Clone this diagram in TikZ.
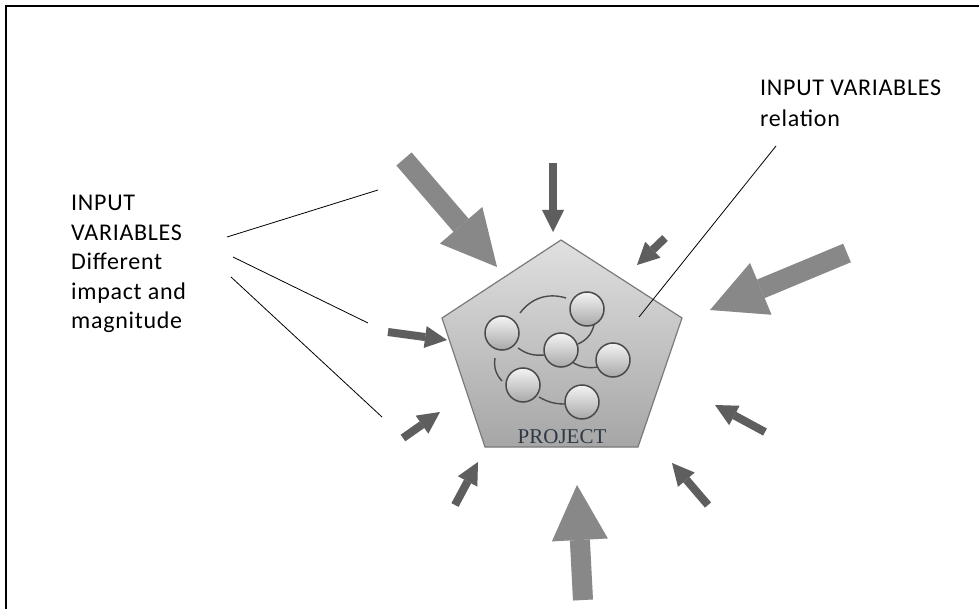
\documentclass[tikz,border=0pt]{standalone}
\usepackage{fontspec}
\newfontfamily\carlito[LetterSpace=3]{Carlito}
\newfontfamily\projfont{Liberation Serif}
\usetikzlibrary{arrows.meta,calc}
\definecolor{bigarrow}{HTML}{888888}
\definecolor{smallarrow}{HTML}{5E5E5E}
\definecolor{glow}{HTML}{D8F3F9}
\definecolor{pentop}{HTML}{E0E0E0}
\definecolor{penbot}{HTML}{A6A6A6}
\definecolor{penedge}{HTML}{7A7A7A}
\definecolor{balltop}{HTML}{F4F4F4}
\definecolor{ballbot}{HTML}{A8A8A8}
\definecolor{balledge}{HTML}{4A4A4A}
\definecolor{projtext}{HTML}{2E3844}
\tikzset{
  bigarr/.style={line width=20pt,-{Triangle[width=56pt,length=55pt,line width=0pt]}},
  smallarr/.style={line width=8pt,-{Triangle[width=22pt,length=22pt,line width=0pt]}},
  glowed/.style={draw=glow,xshift=-4pt,yshift=-4pt},
  ball/.style={circle,minimum size=34pt,inner sep=0pt,draw=balledge,line width=1.5pt,top color=balltop,bottom color=ballbot},
  link/.style={draw=balledge,line width=1.4pt},
  leader/.style={draw=black,line width=0.8pt},
  label/.style={inner sep=0pt,align=left,anchor=north west,text=black}
}
\begin{document}
\begin{tikzpicture}[x=1pt,y=-1pt]
\useasboundingbox (0,0) rectangle (979,609);
% frame
\draw[line width=1.8pt] (6,612) -- (6,6) -- (982,6);

% pentagon corners
\coordinate (p1) at (561,240);
\coordinate (p2) at (682,318);
\coordinate (p3) at (638,447);
\coordinate (p4) at (485,447);
\coordinate (p5) at (442,318);

% arrow coordinates
\coordinate (a1t) at (404,159);  \coordinate (a1h) at (497,267);
\coordinate (a2t) at (847,253);  \coordinate (a2h) at (710,310);
\coordinate (a3t) at (583,600);  \coordinate (a3h) at (577,485);
\coordinate (s1t) at (553,163);  \coordinate (s1h) at (553,232);
\coordinate (s2t) at (665,238);  \coordinate (s2h) at (637,265);
\coordinate (s3t) at (388,332);  \coordinate (s3h) at (447,340);
\coordinate (s4t) at (403,438);  \coordinate (s4h) at (440,412);
\coordinate (s5t) at (455,505);  \coordinate (s5h) at (478,462);
\coordinate (s6t) at (765,432);  \coordinate (s6h) at (715,405);
\coordinate (s7t) at (708,505);  \coordinate (s7h) at (672,463);

% glow shadows
\foreach \a in {a1,a2,a3} \draw[bigarr,glowed] (\a t) -- (\a h);
\foreach \a in {s1,s2,s3,s4,s5,s6,s7} \draw[smallarr,glowed] (\a t) -- (\a h);

% arrows
\foreach \a in {a1,a2,a3} \draw[bigarr,draw=bigarrow] (\a t) -- (\a h);
\foreach \a in {s1,s2,s3,s4,s5,s6,s7} \draw[smallarr,draw=smallarrow] (\a t) -- (\a h);

% pentagon shadow and body
\fill[black,opacity=0.18,xshift=2pt,yshift=-3pt] (p1) -- (p2) -- (p3) -- (p4) -- (p5) -- cycle;
\path[draw=penedge,line width=1.2pt,top color=pentop,bottom color=penbot] (p1) -- (p2) -- (p3) -- (p4) -- (p5) -- cycle;

% network links
\draw[link] (520,313) to[bend left=35] (566,298);
\draw[link] (594,325) to[bend left=25] (578,344);
\draw[link] (518,348) to[bend right=20] (544,355);
\draw[link] (572,362) to[bend right=20] (598,367);
\draw[link] (495,358) to[bend right=25] (502,381);
\draw[link] (539,397) to[bend right=15] (566,404);

% balls
\node[ball] (c1) at (502,333) {};
\node[ball] (c2) at (587,309) {};
\node[ball] (c3) at (561,350) {};
\node[ball] (c4) at (613,360) {};
\node[ball] (c5) at (523,385) {};
\node[ball] (c6) at (582,402) {};

\node[text=projtext,font=\projfont\fontsize{21}{23}\selectfont,inner sep=0pt] (proj) at (562,437) {PROJECT};

% texts
\node[label,font=\carlito\fontsize{24}{29.5}\selectfont] (lefttext) at (71,195) {INPUT\\VARIABLES\\Different\\impact and\\magnitude};
\node[label,font=\carlito\fontsize{24}{30.5}\selectfont] (righttext) at (760,80) {INPUT VARIABLES\\relation};

% leader lines
\coordinate (l1a) at (227,237); \coordinate (l1b) at (378,190);
\coordinate (l2a) at (233,257); \coordinate (l2b) at (368,323);
\coordinate (l3a) at (231,277); \coordinate (l3b) at (382,417);
\coordinate (r1a) at (776,146); \coordinate (r1b) at (639,317);
\draw[leader] (l1a) -- (l1b);
\draw[leader] (l2a) -- (l2b);
\draw[leader] (l3a) -- (l3b);
\draw[leader] (r1a) -- (r1b);
\end{tikzpicture}
\end{document}
